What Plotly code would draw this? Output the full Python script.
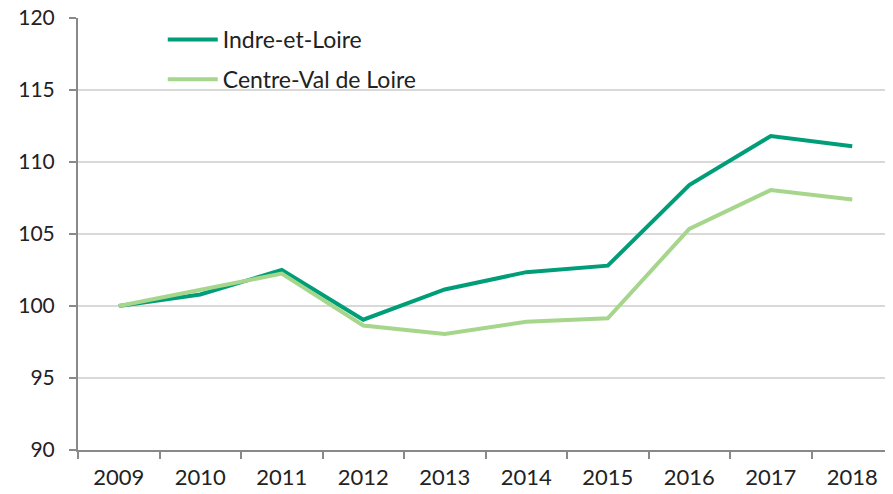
import plotly.graph_objects as go

years = ['2009', '2010', '2011', '2012', '2013', '2014', '2015', '2016', '2017', '2018']
indre = [100, 100.8, 102.5, 99.05, 101.15, 102.35, 102.8, 108.4, 111.8, 111.1]
centre = [100, 101.1, 102.25, 98.65, 98.05, 98.9, 99.15, 105.35, 108.05, 107.4]

dark = '#009E78'
light = '#A6D68C'
axis_col = '#898989'
font = 'Lato, Carlito, Calibri, sans-serif'

fig = go.Figure()
fig.add_trace(go.Scatter(x=years, y=indre, mode='lines', name='Indre-et-Loire',
                         line=dict(color=dark, width=4), legendgroup='a'))
fig.add_trace(go.Scatter(x=years, y=centre, mode='lines', name='Centre-Val de Loire',
                         line=dict(color=light, width=4), legendgroup='b'))

# page body has an 8px margin, so the figure is sized/offset to compensate
fig.update_layout(
    width=885, height=486,
    margin=dict(l=70, r=0, t=10, b=44),
    plot_bgcolor='white', paper_bgcolor='white',
    font=dict(family=font, size=22, color='#222222'),
    showlegend=True,
    legend=dict(x=0.104, y=1.0, xanchor='left', yanchor='top',
                bgcolor='rgba(0,0,0,0)', font=dict(size=23),
                traceorder='grouped', tracegroupgap=7, itemwidth=50),
    xaxis=dict(type='category', range=[-0.5, 9.5], showgrid=False, automargin=False,
               showline=True, linecolor=axis_col, linewidth=2,
               ticks='outside', ticklen=7, tickcolor=axis_col, tickwidth=2,
               tickson='boundaries', ticklabelstandoff=7, fixedrange=True,
               ticklabeloverflow='allow'),
    yaxis=dict(range=[90, 120], dtick=5, showgrid=True, gridcolor='#D9D9D9', gridwidth=1.5,
               showline=True, linecolor=axis_col, linewidth=2, zeroline=False, automargin=False,
               ticks='outside', ticklen=7, tickcolor=axis_col, tickwidth=2,
               tickfont=dict(size=21),
               ticklabelstandoff=10, fixedrange=True, ticklabeloverflow='allow'),
)

fig.write_html("out.html")
